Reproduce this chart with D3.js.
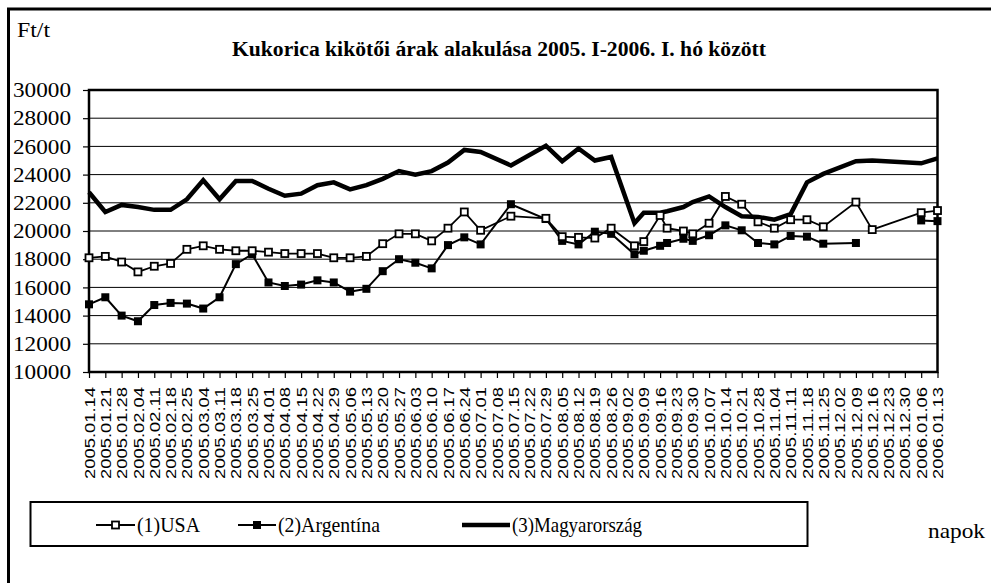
<!DOCTYPE html>
<html><head><meta charset="utf-8">
<script src="https://cdn.jsdelivr.net/npm/d3@7"></script>
<style>
html,body{margin:0;padding:0;background:#fff;}
svg{display:block;}
</style></head>
<body>
<svg id="chart" width="991" height="583"></svg>
<script>
// ---- data ----
const dates = ["2005.01.14","2005.01.21","2005.01.28","2005.02.04","2005.02.11","2005.02.18","2005.02.25",
"2005.03.04","2005.03.11","2005.03.18","2005.03.25","2005.04.01","2005.04.08","2005.04.15","2005.04.22","2005.04.29",
"2005.05.06","2005.05.13","2005.05.20","2005.05.27","2005.06.03","2005.06.10","2005.06.17","2005.06.24",
"2005.07.01","2005.07.14","2005.07.29","2005.08.05","2005.08.12","2005.08.19","2005.08.26",
"2005.09.05","2005.09.09","2005.09.16","2005.09.19","2005.09.26","2005.09.30",
"2005.10.07","2005.10.14","2005.10.21","2005.10.28","2005.11.04","2005.11.11","2005.11.18","2005.11.25",
"2005.12.09","2005.12.16","2006.01.06","2006.01.13"];
const usa = [18100,18200,17800,17100,17500,17700,18700,
18950,18700,18600,18600,18500,18400,18400,18400,18100,
18100,18200,19100,19800,19800,19300,20200,21350,
20050,21050,20900,19600,19550,19500,20200,
18950,19250,21100,20200,20000,19800,
20550,22450,21900,20650,20200,20800,20800,20300,
22050,20100,21300,21450];
const argentina = [14800,15300,14000,13600,14750,14900,14850,
14500,15300,17650,18350,16350,16100,16200,16500,16350,
15700,15900,17150,18000,17750,17350,19000,19550,
19050,21900,20850,19300,19050,19950,19800,
18350,18600,18950,19150,19450,19300,
19700,20400,20050,19150,19050,19650,19600,19100,
19150,null,20750,20700];
const magyar = [22750,21350,21850,21700,21500,21500,22250,
23600,22250,23550,23550,23000,22500,22650,23250,23450,
22950,23250,23700,24250,24000,24250,24850,25750,
25600,24650,26050,24950,25850,25000,25250,
20550,21300,21300,21400,21700,22050,
22450,21700,21050,21000,20800,21200,23450,24050,
24950,25000,24800,25150];
const tickLabels = ["2005.01.14","2005.01.21","2005.01.28","2005.02.04","2005.02.11","2005.02.18","2005.02.25",
"2005.03.04","2005.03.11","2005.03.18","2005.03.25","2005.04.01","2005.04.08","2005.04.15","2005.04.22","2005.04.29",
"2005.05.06","2005.05.13","2005.05.20","2005.05.27","2005.06.03","2005.06.10","2005.06.17","2005.06.24",
"2005.07.01","2005.07.08","2005.07.15","2005.07.22","2005.07.29","2005.08.05","2005.08.12","2005.08.19","2005.08.26",
"2005.09.02","2005.09.09","2005.09.16","2005.09.23","2005.09.30","2005.10.07","2005.10.14","2005.10.21","2005.10.28",
"2005.11.04","2005.11.11","2005.11.18","2005.11.25","2005.12.02","2005.12.09","2005.12.16","2005.12.23","2005.12.30",
"2006.01.06","2006.01.13"];
const yTicks = [10000,12000,14000,16000,18000,20000,22000,24000,26000,28000,30000];
const seriesNames = ["(1)USA","(2)Argentína","(3)Magyarország"];
const titleText = "Kukorica kikötői árak alakulása 2005. I-2006. I. hó között";
const yUnit = "Ft/t";
const xUnit = "napok";

// ---- setup ----
const parse = d3.timeParse("%Y.%m.%d");
const svg = d3.select("#chart");
const L = 89, R = 937.5, T = 90, B = 372;
const x = d3.scaleTime().domain([parse(tickLabels[0]), parse(tickLabels[tickLabels.length-1])]).range([L, R]);
const y = d3.scaleLinear().domain([10000, 30000]).range([B, T]);
const serif = "'Liberation Serif','Times New Roman',serif";
const sans = "'Liberation Sans',Arial,sans-serif";

// outer frame
svg.append("rect").attr("x", 8.5).attr("y", 9).attr("width", 1100).attr("height", 700)
  .attr("fill", "none").attr("stroke", "#000").attr("stroke-width", 3);

// gridlines
svg.append("g").selectAll("line").data(yTicks.filter(v => v > 10000 && v < 30000)).join("line")
  .attr("x1", L).attr("x2", R).attr("y1", d => y(d)).attr("y2", d => y(d))
  .attr("stroke", "#000").attr("stroke-width", 1);

// y axis
const yAxis = svg.append("g").attr("transform", `translate(${L},0)`)
  .call(d3.axisLeft(y).tickValues(yTicks).tickSize(6).tickPadding(12).tickFormat(d3.format("d")));
yAxis.select(".domain").remove();
yAxis.selectAll(".tick line").attr("stroke", "#000").attr("stroke-width", 1.2);
yAxis.selectAll("text").attr("font-family", serif).attr("font-size", 21).attr("fill", "#000")
  .attr("textLength", 58).attr("lengthAdjust", "spacingAndGlyphs");

// x axis
const xAxis = svg.append("g").attr("transform", `translate(0,${B})`)
  .call(d3.axisBottom(x).tickValues(tickLabels.map(parse)).tickSize(6).tickFormat(""));
xAxis.select(".domain").remove();
xAxis.selectAll(".tick line").attr("stroke", "#000").attr("stroke-width", 1.2);
svg.append("g").selectAll("text").data(tickLabels).join("text")
  .attr("transform", d => `translate(${x(parse(d))},387) rotate(-90)`)
  .attr("text-anchor", "end").attr("dy", "0.36em")
  .attr("font-family", sans).attr("font-size", 15.5).attr("fill", "#000")
  .attr("textLength", 92).attr("lengthAdjust", "spacingAndGlyphs")
  .text(d => d);

// plot frame
svg.append("rect").attr("x", L).attr("y", T).attr("width", R - L).attr("height", B - T)
  .attr("fill", "none").attr("stroke", "#000").attr("stroke-width", 2.5);

// series
const rows = dates.map((d, i) => ({date: parse(d), usa: usa[i], arg: argentina[i], hu: magyar[i]}));
const lineFor = key => d3.line().defined(d => d[key] != null).x(d => x(d.date)).y(d => y(d[key]));

svg.append("path").datum(rows).attr("d", lineFor("hu"))
  .attr("fill", "none").attr("stroke", "#000").attr("stroke-width", 4.5).attr("stroke-linejoin", "miter");
svg.append("path").datum(rows).attr("d", lineFor("arg"))
  .attr("fill", "none").attr("stroke", "#000").attr("stroke-width", 2);
svg.append("path").datum(rows).attr("d", lineFor("usa"))
  .attr("fill", "none").attr("stroke", "#000").attr("stroke-width", 1.8);

const ms = 7;
svg.append("g").selectAll("rect").data(rows.filter(d => d.arg != null)).join("rect")
  .attr("x", d => x(d.date) - ms/2 - 0.5).attr("y", d => y(d.arg) - ms/2 - 0.5)
  .attr("width", ms + 1).attr("height", ms + 1).attr("fill", "#000");
svg.append("g").selectAll("rect").data(rows.filter(d => d.usa != null)).join("rect")
  .attr("x", d => x(d.date) - ms/2).attr("y", d => y(d.usa) - ms/2)
  .attr("width", ms).attr("height", ms).attr("fill", "#fff").attr("stroke", "#000").attr("stroke-width", 1.8);

// titles
svg.append("text").attr("x", 17).attr("y", 37).attr("font-family", serif).attr("font-size", 21)
  .attr("textLength", 33).attr("lengthAdjust", "spacingAndGlyphs").text(yUnit);
svg.append("text").attr("x", 499).attr("y", 56).attr("text-anchor", "middle")
  .attr("font-family", serif).attr("font-size", 20).attr("font-weight", "bold")
  .attr("textLength", 534).attr("lengthAdjust", "spacingAndGlyphs").text(titleText);
svg.append("text").attr("x", 928).attr("y", 538).attr("font-family", serif).attr("font-size", 22)
  .attr("textLength", 57).attr("lengthAdjust", "spacingAndGlyphs").text(xUnit);

// legend
const lg = svg.append("g");
lg.append("rect").attr("x", 30.5).attr("y", 502).attr("width", 777).attr("height", 44)
  .attr("fill", "none").attr("stroke", "#000").attr("stroke-width", 2);
const legendItems = [
  {name: seriesNames[0], x0: 96, x1: 135, tx: 137, tw: 63, type: "usa"},
  {name: seriesNames[1], x0: 238, x1: 276, tx: 278, tw: 102, type: "arg"},
  {name: seriesNames[2], x0: 462, x1: 510, tx: 512, tw: 130, type: "hu"}
];
const ly = 525;
legendItems.forEach(it => {
  lg.append("line").attr("x1", it.x0).attr("x2", it.x1).attr("y1", ly).attr("y2", ly)
    .attr("stroke", "#000").attr("stroke-width", it.type === "hu" ? 4.5 : 2);
  const cx = (it.x0 + it.x1) / 2;
  if (it.type === "usa") {
    lg.append("rect").attr("x", cx - 3.5).attr("y", ly - 3.5).attr("width", 7).attr("height", 7)
      .attr("fill", "#fff").attr("stroke", "#000").attr("stroke-width", 1.8);
  } else if (it.type === "arg") {
    lg.append("rect").attr("x", cx - 4).attr("y", ly - 4).attr("width", 8).attr("height", 8).attr("fill", "#000");
  }
  lg.append("text").attr("x", it.tx).attr("y", ly + 7).attr("font-family", serif).attr("font-size", 22)
    .attr("textLength", it.tw).attr("lengthAdjust", "spacingAndGlyphs").text(it.name);
});
</script>
</body></html>
